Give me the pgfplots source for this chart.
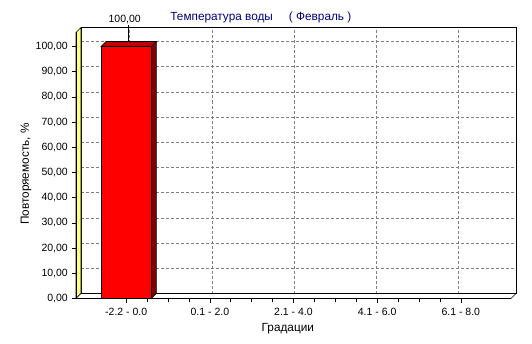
\documentclass[border=0pt]{standalone}
\usepackage{pgfplots}
\pgfplotsset{compat=1.18}
\usepackage{fontspec}
\setmainfont{Liberation Sans}
\definecolor{navytitle}{RGB}{0,0,128}
\definecolor{barfront}{RGB}{255,0,0}
\definecolor{bartop}{RGB}{192,0,0}
\definecolor{barside}{RGB}{128,0,0}
\definecolor{wallyellow}{RGB}{255,255,128}
\definecolor{gridgray}{RGB}{128,128,128}
\begin{document}
\fontsize{10.5bp}{12.6bp}\selectfont
\begin{tikzpicture}[x=1bp,y=1bp]
\fill[white] (0,0) rectangle (532,343);
\useasboundingbox (0,0) rectangle (532,343);
% back wall
\begin{axis}[at={(81bp,49.5bp)}, anchor=south west, scale only axis,
  width=435bp, height=266bp,
  xmin=-0.6, xmax=4.6, ymin=0, ymax=105.56,
  xtick={-0.026,0.966,1.946,2.927,3.907}, ytick={0,10,...,100},
  xticklabels={}, yticklabels={}, major tick length=0pt,
  grid=major, grid style={gridgray, line width=0.6bp, dash pattern=on 3bp off 2bp},
  axis line style={black, line width=0.7bp}]
\addplot[draw=none] coordinates {(0,0)};
\end{axis}
% front plane
\begin{axis}[at={(76bp,44.5bp)}, anchor=south west, scale only axis,
  width=435bp, height=266bp, clip=false, axis on top=true,
  xmin=-0.6, xmax=4.6, ymin=0, ymax=105.56,
  axis x line*=bottom, axis y line*=left, axis line style={-},
  x axis line style={line width=1.8bp}, y axis line style={line width=0.7bp},
  xtick={0,1,2,3,4},
  xticklabels={-2.2 - 0.0, 0.1 - 2.0, 2.1 - 4.0, 4.1 - 6.0, 6.1 - 8.0},
  xticklabel style={yshift=-1.5bp},
  minor x tick num=3,
  ytick={0,10,...,100},
  tick align=outside, major tick length=4.5bp, minor tick length=3bp,
  tick style={black, line width=0.6bp},
  /pgf/number format/.cd, fixed, fixed zerofill, precision=2, use comma, assume math mode=true,
  /pgfplots/.cd,
  xlabel={Градации}, ylabel={Повторяемость, \%},
  xlabel style={at={(axis description cs:0.487,-0.115)}, anchor=center, font=\fontsize{11.8bp}{14bp}\selectfont},
  ylabel style={at={(axis description cs:-0.115,0.468)}, anchor=center, font=\fontsize{11.8bp}{14bp}\selectfont},
  title={Температура воды\hspace{16bp}( Февраль )},
  title style={at={(axis description cs:0.425,1.035)}, anchor=center, yshift=0pt, text=navytitle, font=\fontsize{11.8bp}{14bp}\selectfont},
  ]
% left wall
\addplot[fill=wallyellow, draw=black, line width=0.6bp] coordinates
  {(-0.6,0) (-0.54,1.98) (-0.54,107.54) (-0.6,105.56)} -- cycle;
% floor
\addplot[fill=white, draw=black, line width=0.6bp] coordinates
  {(-0.6,0) (4.6,0) (4.66,1.98) (-0.54,1.98)} -- cycle;
% bar
\addplot[fill=barside, draw=black, line width=0.6bp] coordinates
  {(0.3,0) (0.36,1.98) (0.36,101.98) (0.3,100)} -- cycle;
\addplot[fill=bartop, draw=black, line width=0.6bp] coordinates
  {(-0.3,100) (-0.24,101.98) (0.36,101.98) (0.3,100)} -- cycle;
\addplot[ybar, bar width=0.6, fill=barfront, draw=black, line width=0.6bp] coordinates {(0,100)};
% value label
\addplot[black, line width=0.6bp] coordinates {(0.03,101.98) (0.03,108.6)}
  node[pos=1, anchor=south, inner sep=1bp, xshift=-4bp] {100,00};
\end{axis}
\end{tikzpicture}
\end{document}
